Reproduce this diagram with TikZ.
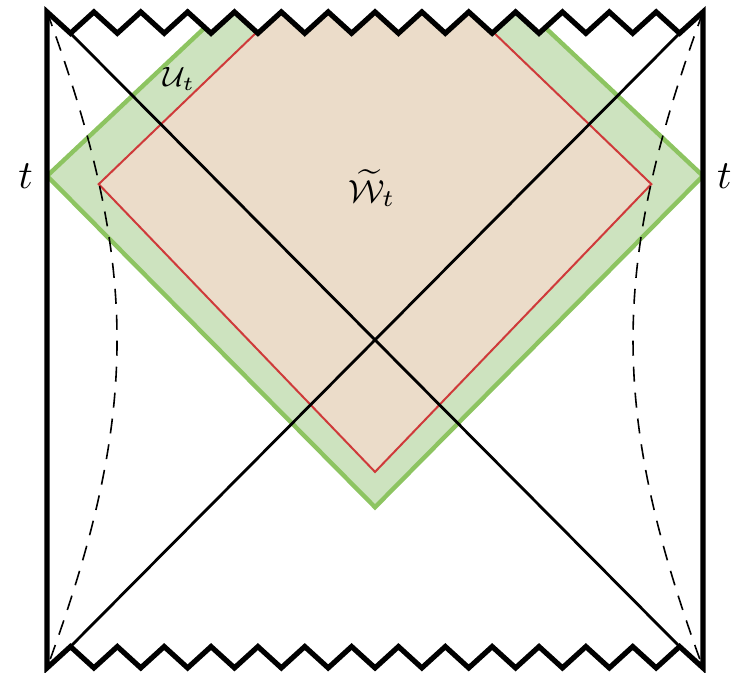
\documentclass[tikz,border=0pt]{standalone}
\usepackage{tikz}
\definecolor{horgreen}{HTML}{8DC461}
\definecolor{lightgreen}{HTML}{CDE3BF}
\definecolor{wedgered}{HTML}{CF3A3A}
\definecolor{wedgebeige}{HTML}{EBDCC9}

\begin{document}
\begin{tikzpicture}[x=41pt, y=41pt,
    bdry/.style={line width=1.3pt, line join=miter},
    horizon/.style={line width=0.7pt},
    stretched/.style={line width=0.4pt, dash pattern=on 3.75pt off 2.75pt},
    greenwedge/.style={fill=lightgreen, draw=horgreen, line width=1.1pt},
    redwedge/.style={fill=wedgebeige, draw=wedgered, line width=0.5pt}]
  \useasboundingbox (-2.287,-2.030) rectangle (2.189,2.073);
  % corners and horizon ends
  \coordinate (tl) at (-2,2);
  \coordinate (tr) at (2,2);
  \coordinate (bl) at (-2,-2);
  \coordinate (br) at (2,-2);
  \coordinate (hl) at (-2+1/7,1.87);
  \coordinate (hr) at (2-1/7,1.87);
  \coordinate (hbl) at (-2+1/7,-1.87);
  \coordinate (hbr) at (2-1/7,-1.87);
  % wedge vertices
  \coordinate (gl) at (-2,1);
  \coordinate (gr) at (2,1);
  \coordinate (gb) at (0,-1.02);
  \coordinate (gt) at (0,2.88);
  \coordinate (rl) at (-1.685,0.95);
  \coordinate (rr) at (1.685,0.95);
  \coordinate (rb) at (0,-0.805);
  \coordinate (rt) at (0,2.57);

  \begin{scope}
    \clip (bl) -- (tl)
      \foreach \i in {1,...,14} {-- ({-2+(\i-.5)*2/7},1.87) -- ({-2+\i*2/7},2)}
      -- (br) -- cycle;
    \draw[greenwedge] (gl) -- (gb) -- (gr) -- (gt) -- cycle;
    \draw[redwedge] (rl) -- (rb) -- (rr) -- (rt) -- cycle;
  \end{scope}

  % stretched horizons
  \draw[stretched] (tl) .. controls (-1.431,0.45) and (-1.431,-0.45) .. (bl);
  \draw[stretched] (tr) .. controls (1.431,0.45) and (1.431,-0.45) .. (br);

  % event horizons
  \draw[horizon] (hl) -- (hbr);
  \draw[horizon] (hbl) -- (hr);

  % boundary with singularities
  \draw[bdry] (bl) -- (tl)
    \foreach \i in {1,...,14} {-- ({-2+(\i-.5)*2/7},1.87) -- ({-2+\i*2/7},2)}
    -- (br)
    \foreach \i in {13,...,1} {-- ({-2+(\i+.5)*2/7},-1.87) -- ({-2+\i*2/7},-2)}
    -- (hbl) -- cycle;

  \node[left] (tleft) at (gl) {$t$};
  \node[right] (tright) at (gr) {$t$};
  \node (ulabel) at (-1.195,1.59) {\scriptsize $\mathcal{U}_t$};
  \node (wlabel) at (-0.018,0.927) {\footnotesize $\widetilde{\mathcal{W}}_t$};
\end{tikzpicture}
\end{document}
